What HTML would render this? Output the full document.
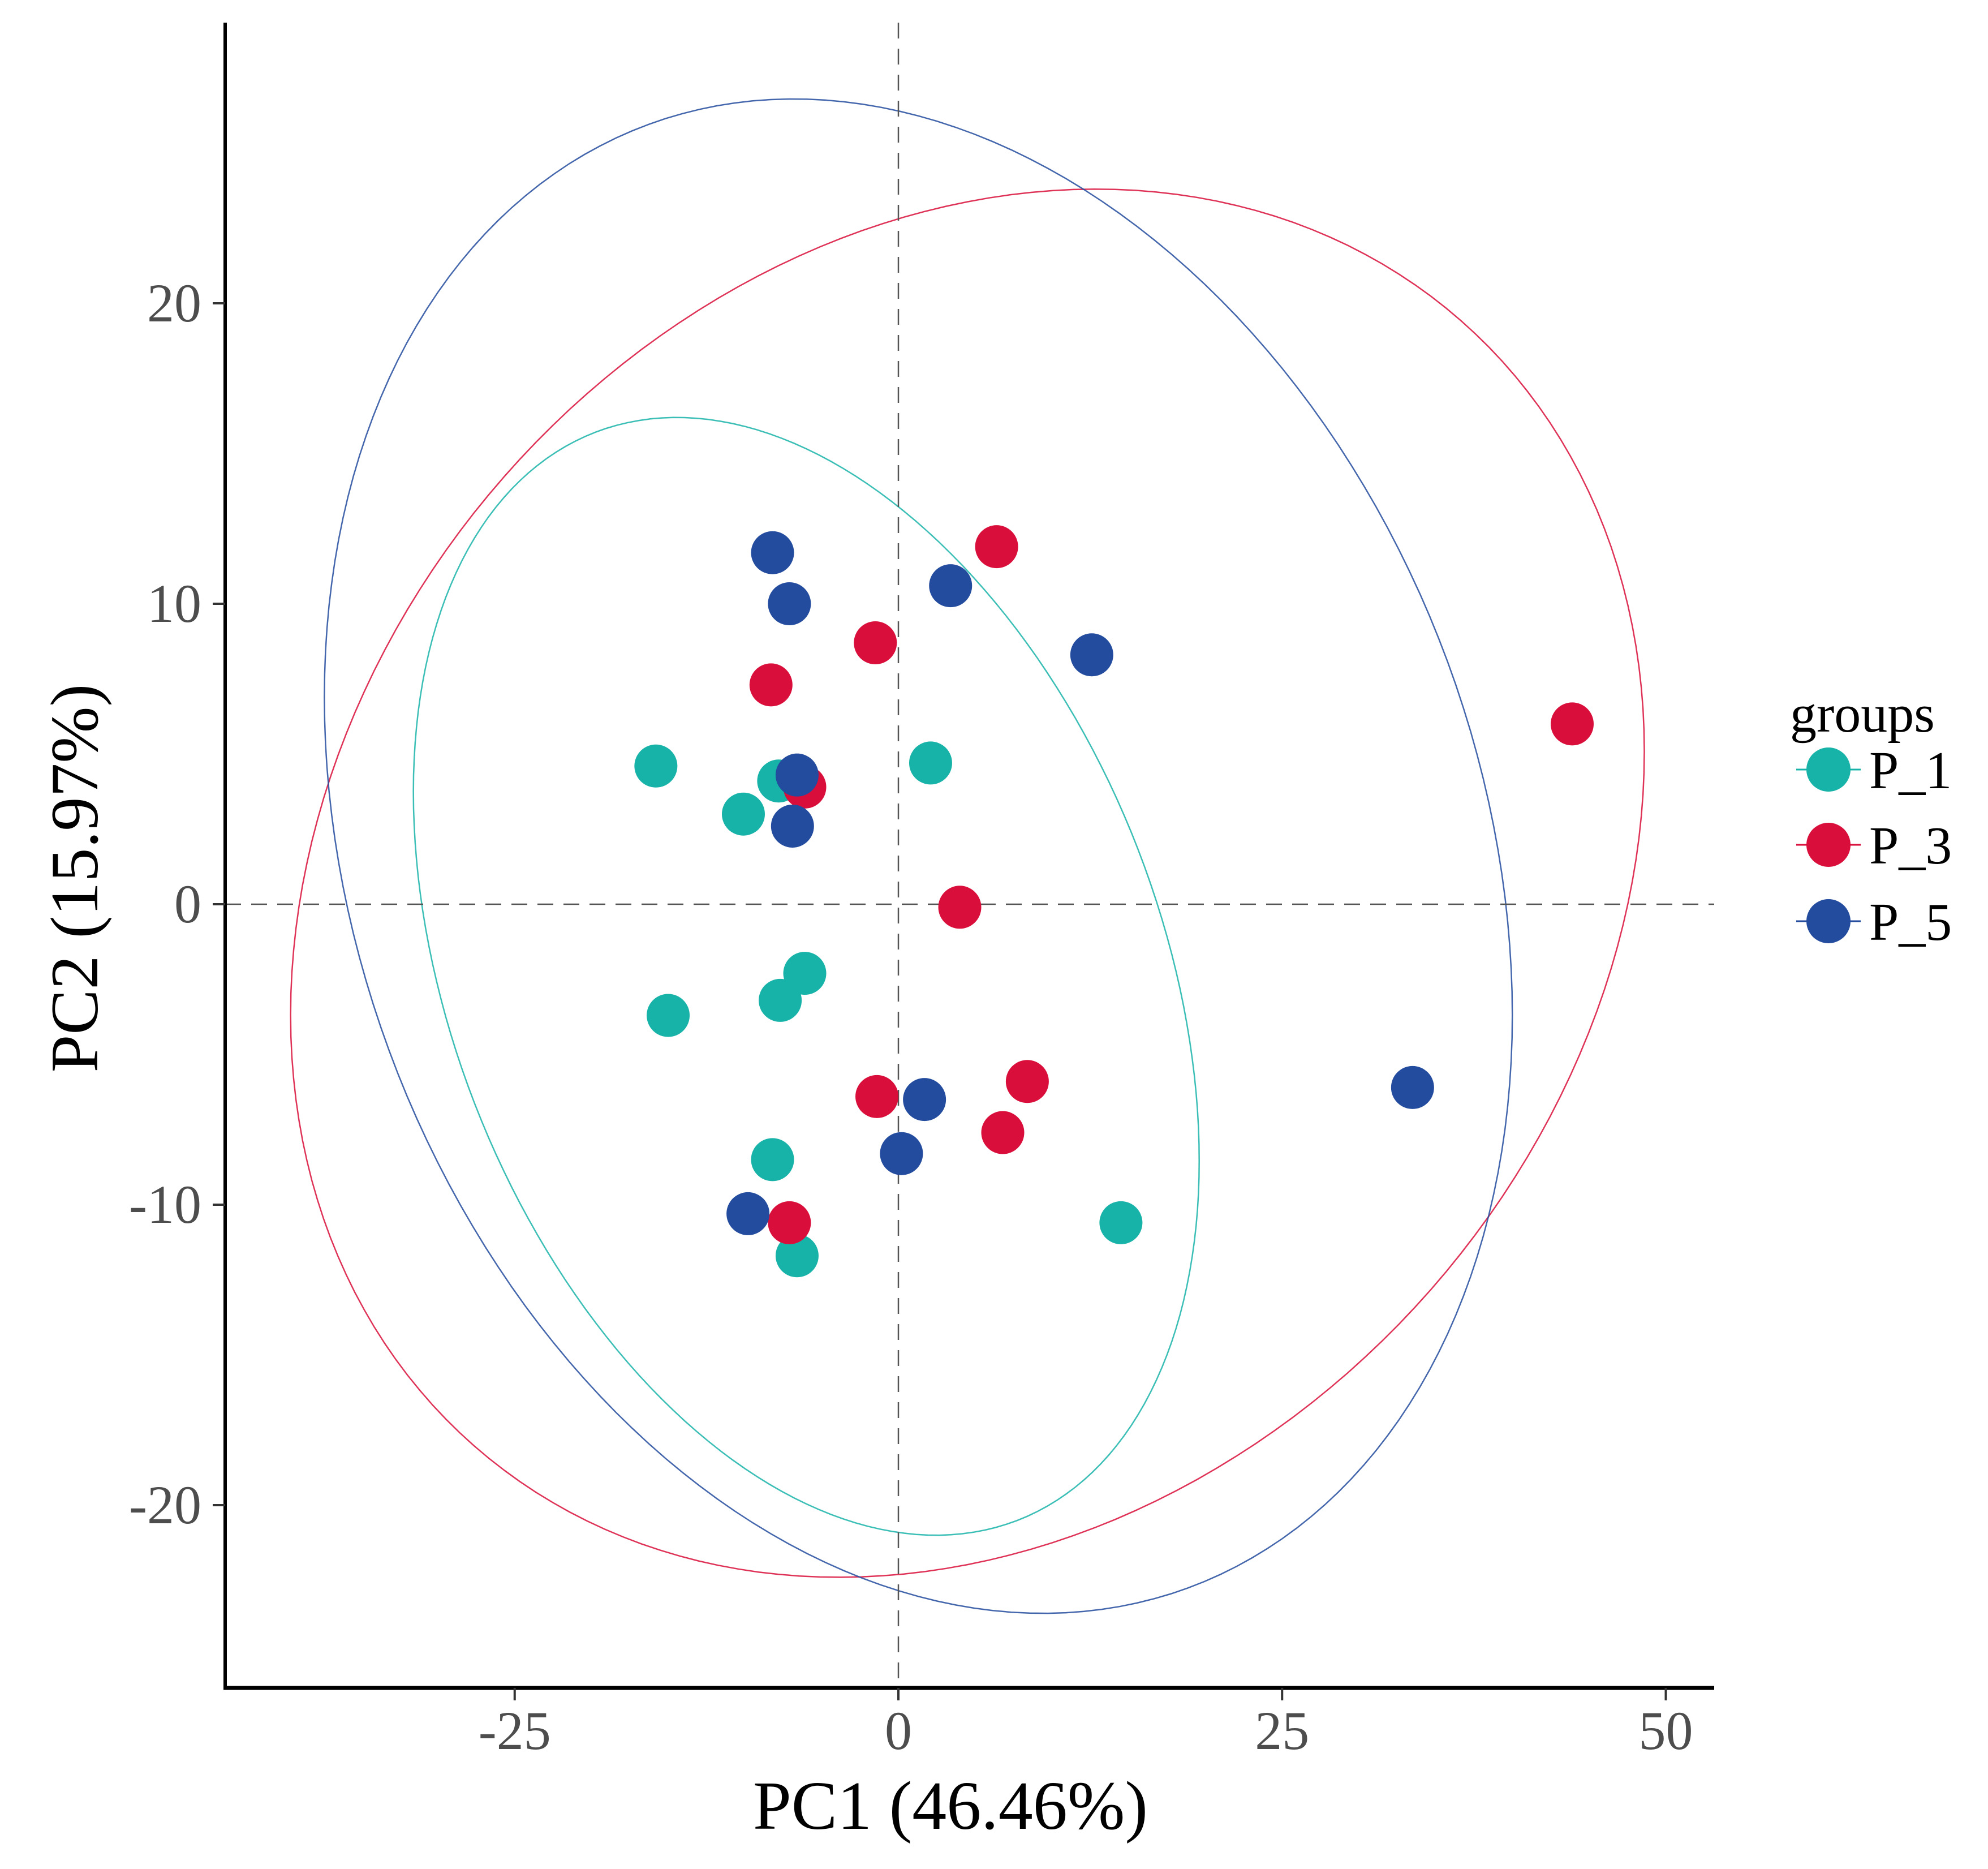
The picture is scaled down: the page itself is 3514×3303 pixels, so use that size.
<!DOCTYPE html>
<html><head><meta charset="utf-8"><style>
body{margin:0;background:#fff}
svg{display:block;font-family:"Liberation Serif",serif}
</style></head><body>
<svg id="chart" width="3514" height="3303" viewBox="0 0 3514 3303">
<g id="ellipses"></g>
<g id="refs"></g>
<g id="points"></g>
<g id="axes"></g>
<text x="1680" y="3232" font-size="122" text-anchor="middle" fill="#000">PC1 (46.46%)</text>
<text transform="translate(172,1552) rotate(-90)" font-size="120" text-anchor="middle" fill="#000">PC2 (15.97%)</text>
<g id="legend">
<text x="3164" y="1293" font-size="94" fill="#000">groups</text>
</g>
</svg>
<script>
const groups=["P_1","P_3","P_5"];
const colors=["#17b3a8","#d90e3a","#234b9e"];
const p1x=[-15.8,-10.1,-7.8,2.1,-6.1,-7.7,-15.0,-8.2,-6.6,14.5];
const p1y=[4.6,3.0,4.1,4.7,-2.3,-3.2,-3.7,-8.5,-11.7,-10.6];
const p3x=[6.4,-1.5,-8.3,-6.1,43.9,4.0,-1.4,8.4,6.8,-7.1];
const p3y=[11.9,8.7,7.3,3.9,6.0,-0.1,-6.4,-5.9,-7.6,-10.6];
const p5x=[-8.2,-7.1,3.4,12.6,-6.6,-6.9,1.7,0.2,-9.8,33.5];
const p5y=[11.7,10.0,10.6,8.3,4.3,2.6,-6.5,-8.3,-10.3,-6.1];
// ellipse params in data units: center x, center y, half-width, half-height, correlation
const ellCx=[-6.0,4.5,1.3];
const ellCy=[-2.4,0.7,1.6];
const ellHw=[25.6,44.1,38.7];
const ellHh=[18.6,23.1,25.2];
const ellR=[-0.33,0.19,-0.21];
const xTicks=[-25,0,25,50];
const yTicks=[-20,-10,0,10,20];

const NS="http://www.w3.org/2000/svg";
const X0=1588,XS=27.13,Y0=1598,YS=53.1;
const sx=v=>X0+v*XS, sy=v=>Y0-v*YS;
const AX=398,AY=2983,AR=3030,AT=40;
function mk(tag,attrs,parent){const e=document.createElementNS(NS,tag);for(const k in attrs)e.setAttribute(k,attrs[k]);parent.appendChild(e);return e;}

const eg=document.getElementById('ellipses');
for(let g=0;g<3;g++){
  const A=ellHw[g]*XS, Syy=ellHh[g]*YS, C=-ellR[g]*Syy, D=Syy*Math.sqrt(1-ellR[g]*ellR[g]);
  const cx=sx(ellCx[g]), cy=sy(ellCy[g]);
  let d="";
  for(let i=0;i<=200;i++){const t=i/200*2*Math.PI;const x=cx+A*Math.cos(t),y=cy+C*Math.cos(t)+D*Math.sin(t);d+=(i?"L":"M")+x.toFixed(1)+","+y.toFixed(1);}
  const p=mk('path',{d:d+"Z",fill:"none",stroke:colors[g],"stroke-width":2.5,opacity:0.85},eg);
  
  
}
const rg=document.getElementById('refs');
let l=mk('line',{x1:sx(0),x2:sx(0),y1:AT,y2:AY,stroke:"#555","stroke-width":2.5,"stroke-dasharray":"28 18"},rg);


l=mk('line',{x1:AX,x2:AR,y1:sy(0),y2:sy(0),stroke:"#555","stroke-width":2.5,"stroke-dasharray":"28 18"},rg);



const pg=document.getElementById('points');
const xs=[p1x,p3x,p5x], ys=[p1y,p3y,p5y];
for(let g=0;g<3;g++){for(let i=0;i<xs[g].length;i++){
  const c=mk('circle',{cx:sx(xs[g][i]),cy:sy(ys[g][i]),r:38,fill:colors[g]},pg);
  
  
}}

const ag=document.getElementById('axes');
l=mk('line',{x1:AX,x2:AX,y1:AT,y2:AY+3,stroke:"#000","stroke-width":6},ag);


l=mk('line',{x1:AX-3,x2:AR,y1:AY,y2:AY,stroke:"#000","stroke-width":7},ag);


for(const v of xTicks){
  const t=mk('line',{x1:sx(v),x2:sx(v),y1:AY,y2:AY+22,stroke:"#333","stroke-width":4},ag);
  
  
  const tx=mk('text',{x:sx(v),y:AY+108,"font-size":96,"text-anchor":"middle",fill:"#4d4d4d"},ag);
  tx.textContent=v;
  
  
}
for(const v of yTicks){
  const t=mk('line',{x1:AX-22,x2:AX,y1:sy(v),y2:sy(v),stroke:"#333","stroke-width":4},ag);
  
  
  const tx=mk('text',{x:AX-42,y:sy(v)+32,"font-size":96,"text-anchor":"end",fill:"#4d4d4d"},ag);
  tx.textContent=v;
  
  
}
const lg=document.getElementById('legend');
const ly=[1360,1493,1628];
for(let g=0;g<3;g++){
  const e=mk('g',{},lg);
  
  
  mk('line',{x1:3175,x2:3289,y1:ly[g],y2:ly[g],stroke:colors[g],"stroke-width":3},e);
  mk('circle',{cx:3232,cy:ly[g],r:39,fill:colors[g]},e);
  const t=mk('text',{x:3304,y:ly[g]+33,"font-size":94,fill:"#000"},e);
  t.textContent=groups[g];
}
</script>
</body></html>
